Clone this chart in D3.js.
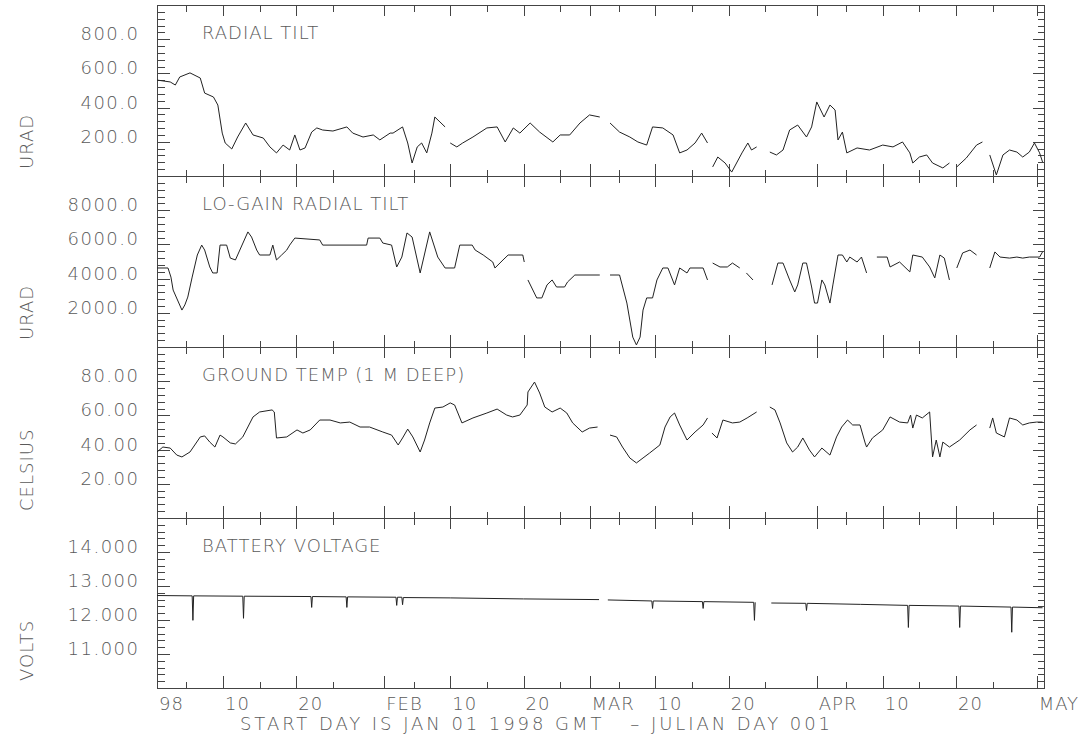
<!DOCTYPE html>
<html>
<head>
<meta charset="utf-8">
<script src="https://cdn.jsdelivr.net/npm/d3@7"></script>
<style>
body{margin:0;background:#fff}
text{font-family:"DejaVu Sans",sans-serif;font-weight:200;fill:#5a5a5a;font-size:18px}
</style>
</head>
<body>
<svg id="chart" width="1089" height="734"></svg>
<script>
// x axis: days since Jan 01 1998
var xMajorDays = [0,9,19,31,40,50,59,68,78,90,99,109,120]
var xMajorLabels = ["98","10","20","FEB","10","20","MAR","10","20","APR","10","20","MAY"]
var xMinorDays = [4,14,24,35,45,55,63,73,83,94,104,114]

// panel 1 - radial tilt (uRAD)
var tiltDays = [0,1.8,2.5,3.1,4.5,5.9,6.5,7.7,8.3,8.9,9.3,10.2,11.0,12.1,13.1,14.5,15.4,16.3,17.2,18.1,18.8,19.5,20.2,21.1,21.8,22.6,24.0,25.9,26.7,28.1,29.5,30.4,31.8,32.2,33.5,34.2,34.8,35.5,36.1,36.8,37.5,37.9,38.6,39.3,39.6,40.0,40.9,41.7,43.1,45.0,46.4,47.5,48.6,49.5,50.9,52.2,54.0,55.0,56.3,57.7,59.0,60.4,61.0,61.8,63.1,64.5,65.6,66.8,67.6,69.0,70.4,71.3,72.3,73.4,74.3,75.1,75.5,75.8,76.5,77.5,78.4,79.8,80.6,81.1,81.8,82.7,83.6,84.5,85.4,86.3,87.4,88.6,89.3,90.0,91.0,91.8,92.5,92.9,93.5,94.1,95.5,97.2,99.0,100.4,101.7,102.7,103.1,104.0,105.0,105.8,107.2,108.1,108.6,109.1,110.4,111.8,112.6,113.1,113.6,114.5,115.4,116.3,117.3,118.1,119.0,119.7,120.4,120.8]
var tiltVals = [561,550,532,579,603,573,485,462,415,251,193,158,228,310,240,222,170,135,181,152,240,152,164,257,281,269,263,287,251,228,240,211,251,251,287,193,76,170,193,135,251,345,316,287,null,193,170,193,228,281,287,199,281,251,310,257,199,240,240,310,357,345,null,310,257,228,199,181,287,281,240,135,152,193,251,193,null,53,111,76,23,135,193,152,170,null,140,123,152,269,298,228,287,433,345,415,386,211,257,135,164,152,181,170,199,135,76,111,123,76,47,76,null,53,105,181,199,null,123,6,123,152,140,111,140,193,135,82]

// panel 2 - lo-gain radial tilt (uRAD)
var loDays = [0,1.5,1.9,2.2,3.4,3.8,4.2,4.8,5.5,6.1,6.5,7.2,7.6,8.2,8.6,9.5,10.0,10.7,11.3,12.4,12.9,13.6,14.0,15.4,15.8,16.3,17.0,17.7,18.1,18.8,22.2,22.6,28.6,28.8,30.4,30.8,32.0,32.7,33.4,34.1,34.8,35.9,37.2,38.3,39.3,40.6,41.3,43.0,43.4,44.5,45.8,46.1,47.2,47.9,49.9,50.1,50.3,50.6,51.8,52.5,53.2,53.9,54.5,55.6,56.0,57.0,60.4,61.0,61.8,63.1,64.1,64.9,65.4,65.9,66.3,66.8,67.6,68.2,69.0,69.7,70.6,71.3,72.3,72.7,74.5,75.1,75.5,75.8,76.8,77.8,78.5,79.5,80.0,80.4,81.3,82.5,83.9,84.7,85.4,86.3,87.0,87.4,88.1,88.6,89.3,89.7,90.1,90.7,91.1,91.8,92.2,92.9,93.5,94.1,94.5,95.5,96.1,96.8,97.5,98.2,99.6,100.0,101.3,102.7,103.1,104.4,105.4,106.1,106.8,107.4,108.1,108.6,109.1,109.9,110.9,111.8,112.7,113.6,114.3,115.0,116.3,117.3,118.1,119.0,120.4,120.8]
var loVals = [4620,4620,4090,3330,2160,2460,2920,4090,5380,5960,5670,4680,4330,4330,5960,5960,5200,5090,5670,6730,6430,5670,5380,5380,5960,5090,5380,5670,5960,6370,6260,5960,5960,6370,6370,6080,5960,4680,5260,6670,6430,4330,6730,5260,4620,4620,5960,5960,5670,5380,4970,4620,5090,5380,5380,4970,null,3920,2870,2870,3630,3920,3510,3510,3800,4210,4210,null,4210,4210,2570,580,120,580,2160,2870,2870,3920,4620,4620,3630,4620,4330,4620,4620,3920,null,4910,4680,4680,4910,4620,null,4330,3920,null,3630,4910,4910,3920,3220,3630,4910,4910,3510,2570,2570,3920,3630,2570,3630,5380,5380,4970,5260,4970,5260,4330,null,5260,5260,4680,4970,4390,5380,5260,4680,4040,5380,5200,3920,null,4620,5500,5670,5380,null,4620,5560,5260,5200,5260,5200,5260,5260,5560]

// panel 3 - ground temp 1 m deep (celsius)
var tempDays = [0,0.8,1.8,2.7,3.4,4.5,5.9,6.5,7.2,7.9,8.6,9.0,10.0,10.7,11.7,13.1,14.0,15.7,16.0,16.3,17.7,19.1,19.9,20.9,22.2,23.6,25.0,26.3,27.7,29.0,30.8,32.0,32.9,33.5,34.2,34.9,35.9,36.5,37.2,37.9,39.0,40.0,40.6,41.6,43.1,45.0,46.4,47.7,48.5,49.5,50.5,50.6,51.5,52.2,52.9,53.9,55.0,55.9,56.7,58.0,59.0,60.1,61.0,61.8,62.7,63.5,64.5,65.4,66.3,67.2,68.6,69.3,70.0,70.6,71.3,72.3,73.4,74.5,75.1,75.4,75.7,76.4,77.2,78.5,79.5,80.5,81.8,82.7,83.6,84.3,85.0,85.9,86.7,87.4,88.1,89.0,89.7,90.7,91.8,92.7,93.4,94.2,94.9,95.9,96.6,96.8,97.6,99.0,100.0,101.3,102.4,102.8,103.1,103.6,104.4,105.4,105.8,106.3,106.8,107.2,108.1,109.5,110.9,111.8,112.7,113.6,114.0,114.5,115.6,116.3,117.3,118.1,119.0,120.0,120.8]
var tempVals = [38.6,41.5,40.9,36.8,35.7,38.6,47.4,48.0,44.4,41.5,48.5,47.4,43.9,43.3,47.4,59.1,62.0,63.2,62.0,46.8,47.4,51.5,49.7,51.5,57.3,57.3,55.6,56.1,53.2,53.2,50.3,48.5,42.7,46.8,52.0,47.4,38.6,45.6,55.6,64.3,64.9,67.3,66.1,55.6,58.5,61.4,63.7,60.2,59.1,60.2,66.1,73.7,79.5,73.1,64.9,62.0,64.3,61.4,55.6,50.3,52.6,53.2,null,48.5,47.4,41.5,35.1,32.2,35.1,38.0,42.7,53.2,59.1,61.4,54.4,45.6,50.3,54.4,58.5,null,49.7,46.8,57.3,55.6,56.1,58.5,62.0,null,64.9,63.2,55.6,43.9,38.6,41.5,46.8,39.8,35.7,40.9,36.8,47.4,53.2,57.3,54.4,54.4,43.9,41.5,46.8,51.5,59.1,56.1,55.6,60.2,52.6,60.2,58.5,62.0,35.7,45.6,35.7,44.4,41.5,45.6,51.5,54.4,null,52.6,58.5,49.7,47.4,58.5,57.3,54.4,55.6,56.1,56.1]

// panel 4 - battery voltage (volts)
var battDays = [0,4.8,4.9,5.0,11.7,11.8,11.9,21.0,21.1,21.2,25.8,25.9,26.0,32.6,32.7,32.8,33.4,33.5,33.6,40,50,60.3,61.0,61.5,67.5,67.6,67.7,74.4,74.5,74.6,81.4,81.5,81.6,82.7,83.8,88.5,88.6,88.7,96,102.4,102.5,102.6,109.4,109.5,109.6,116.5,116.6,116.7,120.8]
var battVals = [12.72,12.71,11.99,12.71,12.70,12.05,12.70,12.69,12.37,12.69,12.68,12.37,12.68,12.67,12.43,12.67,12.67,12.45,12.66,12.65,12.62,12.60,null,12.59,12.56,12.34,12.56,12.54,12.34,12.54,12.52,11.99,12.52,null,12.50,12.49,12.28,12.49,12.46,12.43,11.78,12.43,12.41,11.78,12.41,12.38,11.64,12.38,12.36]

var svg = d3.select("#chart")
var left = 157, right = 1044

var x = d3.scaleLinear().domain([0,121]).range([left,right])

var drawPanel = function(top, h, title, unit, domain, step, nMinor, fmt, days, vals)
{
    var bottom = top + h
    var y = d3.scaleLinear().domain(domain).range([bottom, top])
    var g = svg.append("g")

    var majors = d3.range(domain[0] + step, domain[1] - step/2, step)
    var minors = d3.range(domain[0], domain[1] + step/nMinor/2, step/nMinor)

    // frame
    g.append("rect")
        .attr("x", left + .5).attr("y", top + .5)
        .attr("width", right - left).attr("height", h)
        .attr("fill", "none").attr("stroke", "#444")
        .attr("shape-rendering", "crispEdges")

    // y ticks, left and right, pointing inward
    g.selectAll(".ymin").data(minors).enter().append("path")
        .attr("d", function(d){
            var yy = Math.round(y(d)) + .5
            return "M" + left + "," + yy + "h8M" + right + "," + yy + "h-6"
        })
        .attr("stroke", "#444").attr("shape-rendering", "crispEdges")
    g.selectAll(".ymaj").data(majors).enter().append("path")
        .attr("d", function(d){
            var yy = Math.round(y(d)) + .5
            return "M" + left + "," + yy + "h13M" + right + "," + yy + "h-11"
        })
        .attr("stroke", "#444").attr("shape-rendering", "crispEdges")
    g.selectAll(".ylab").data(majors).enter().append("text")
        .attr("x", 139.5).attr("y", function(d){return y(d) + 1})
        .attr("text-anchor", "end")
        .attr("letter-spacing", 1.5)
        .text(function(d){return d3.format(fmt)(d)})

    // x ticks top and bottom, pointing inward
    g.selectAll(".xmaj").data(xMajorDays).enter().append("path")
        .attr("d", function(d){
            var xx = Math.round(x(d)) + .5
            return "M" + xx + "," + top + "v11M" + xx + "," + bottom + "v-12"
        })
        .attr("stroke", "#444").attr("shape-rendering", "crispEdges")
    g.selectAll(".xmin").data(xMinorDays).enter().append("path")
        .attr("d", function(d){
            var xx = Math.round(x(d)) + .5
            return "M" + xx + "," + top + "v7M" + xx + "," + bottom + "v-6"
        })
        .attr("stroke", "#444").attr("shape-rendering", "crispEdges")

    // titles
    g.append("text")
        .attr("x", 202).attr("y", top + 34)
        .attr("letter-spacing", 1)
        .text(title)
    g.append("text")
        .attr("transform", "translate(33," + (bottom - 7) + ") rotate(-90)")
        .attr("letter-spacing", 1)
        .text(unit)

    // data line, broken at gaps
    var line = d3.line()
        .defined(function(d){return d[1] != null})
        .x(function(d){return x(d[0])})
        .y(function(d){return y(d[1])})
    g.append("path")
        .datum(days.map(function(d,i){return [d, vals[i]]}))
        .attr("d", line)
        .attr("fill", "none")
        .attr("stroke", "#222")
        .attr("stroke-width", 1)
}

drawPanel(5, 171, "RADIAL TILT", "URAD", [0,1000], 200, 5, ".1f", tiltDays, tiltVals)
drawPanel(176, 171, "LO-GAIN RADIAL TILT", "URAD", [0,10000], 2000, 5, ".1f", loDays, loVals)
drawPanel(347, 171, "GROUND TEMP (1 M DEEP)", "CELSIUS", [0,100], 20, 5, ".2f", tempDays, tempVals)
drawPanel(518, 170, "BATTERY VOLTAGE", "VOLTS", [10,15], 1, 5, ".3f", battDays, battVals)

// bottom date labels
svg.selectAll(".xlab").data(xMajorDays).enter().append("text")
    .attr("x", function(d){return x(d) + 2})
    .attr("y", 710)
    .attr("letter-spacing", 1)
    .text(function(d,i){return xMajorLabels[i]})

svg.append("text")
    .attr("x", 240).attr("y", 730)
    .attr("textLength", 590).attr("lengthAdjust", "spacing")
    .style("white-space", "pre")
    .text("START DAY IS JAN 01 1998 GMT   \u2013 JULIAN DAY 001")
</script>
</body>
</html>
